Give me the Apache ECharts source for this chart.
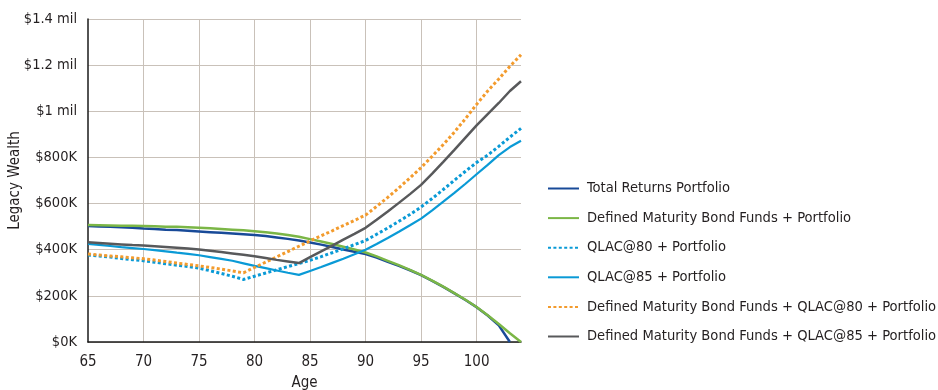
<!DOCTYPE html>
<html>
<head>
<meta charset="utf-8">
<script src="https://cdn.jsdelivr.net/npm/echarts@6/dist/echarts.min.js"></script>
<style>
  html, body { margin: 0; padding: 0; background: #ffffff; }
  #chart { width: 938px; height: 390px; }
</style>
</head>
<body>
<div id="chart"></div>
<script>
// Age of the retiree, one point per year
const ages = [65, 66, 67, 68, 69, 70, 71, 72, 73, 74,
              75, 76, 77, 78, 79, 80, 81, 82, 83, 84,
              85, 86, 87, 88, 89, 90, 91, 92, 93, 94,
              95, 96, 97, 98, 99, 100, 101, 102, 103, 104];

// Legacy wealth in thousands of dollars
const totalReturns = [503, 501, 499, 497, 495, 492, 490, 487, 485, 482,
                      479, 476, 473, 470, 467, 464, 459, 453, 447, 440,
                      431, 422, 412, 401, 391, 381, 366, 348, 330, 311,
                      290, 265, 239, 211, 182, 151, 115, 72, 0, null];
const bondFunds = [507, 506, 505, 504, 504, 503, 502, 500, 499, 497,
                   495, 493, 490, 487, 484, 480, 476, 470, 464, 456,
                   446, 436, 425, 413, 401, 388, 371, 352, 333, 313,
                   291, 266, 240, 212, 183, 152, 116, 78, 38, 0];
const qlac80 = [377, 373, 368, 362, 357, 352, 346, 339, 333, 327,
                320, 309, 297, 285, 271, 285, 299, 313, 327, 340,
                354, 370, 387, 404, 422, 440, 467, 494, 523, 553,
                585, 622, 661, 701, 740, 778, 810, 848, 888, 926];
const qlac85 = [425, 421, 416, 411, 407, 403, 398, 393, 387, 382,
                376, 368, 360, 352, 341, 330, 320, 310, 300, 291,
                308, 325, 343, 361, 380, 400, 425, 451, 478, 506,
                535, 571, 608, 646, 686, 727, 768, 810, 845, 872];
const bondQlac80 = [381, 377, 373, 369, 365, 361, 355, 349, 342, 336,
                    330, 323, 316, 308, 300, 323, 346, 369, 392, 415,
                    438, 460, 482, 505, 527, 550, 588, 627, 668, 711,
                    756, 805, 856, 910, 968, 1030, 1088, 1140, 1195, 1245];
const bondQlac85 = [432, 429, 426, 423, 420, 418, 415, 412, 409, 405,
                    401, 396, 390, 384, 378, 372, 364, 356, 349, 342,
                    368, 393, 418, 444, 469, 495, 530, 566, 603, 641,
                    681, 730, 781, 833, 886, 939, 988, 1036, 1088, 1130];

// Y axis tick labels, one per 200K step
const yTickLabels = ['$0K', '$200K', '$400K', '$600K', '$800K', '$1 mil', '$1.2 mil', '$1.4 mil'];

const seriesNames = [
  'Total Returns Portfolio',
  'Defined Maturity Bond Funds + Portfolio',
  'QLAC@80 + Portfolio',
  'QLAC@85 + Portfolio',
  'Defined Maturity Bond Funds + QLAC@80 + Portfolio',
  'Defined Maturity Bond Funds + QLAC@85 + Portfolio'
];

const FONT = '"DejaVu Sans Condensed", "Liberation Sans Narrow", sans-serif';
const TEXT = '#231f20';
const GRID = '#c9c1b9';

function pairs(values) {
  return ages.map((a, i) => [a, values[i]]);
}

function lineSeries(name, values, color, width, dotted) {
  return {
    name: name,
    type: 'line',
    data: pairs(values),
    symbol: 'none',
    showSymbol: false,
    smooth: false,
    connectNulls: false,
    lineStyle: {
      color: color,
      width: width,
      type: dotted ? [3, 2.4] : 'solid',
      cap: 'butt'
    },
    itemStyle: { color: color },
    emphasis: { disabled: true }
  };
}

const chart = echarts.init(document.getElementById('chart'), null, { renderer: 'canvas' });

chart.setOption({
  animation: false,
  backgroundColor: '#ffffff',
  grid: { left: 88, right: 417, top: 19, bottom: 48, containLabel: false, outerBoundsMode: 'none' },
  legend: {
    orient: 'vertical',
    left: 547,
    top: 181,
    padding: 0,
    itemWidth: 31,
    itemHeight: 16,
    itemGap: 14.6,
    selectedMode: false,
    itemStyle: { opacity: 0, borderWidth: 0 },
    textStyle: { fontFamily: FONT, fontSize: 14.6, color: TEXT, padding: [0, 0, 0, 3] },
    data: seriesNames
  },
  xAxis: {
    type: 'value',
    min: 65,
    max: 104,
    interval: 5,
    name: 'Age',
    nameLocation: 'middle',
    nameGap: 34,
    nameMoveOverlap: false,
    nameTextStyle: { fontFamily: FONT, fontSize: 15, color: TEXT },
    axisLine: { show: true, onZero: false, lineStyle: { color: '#1a1a1a', width: 1.5 } },
    axisTick: { show: false },
    axisLabel: {
      fontFamily: FONT, fontSize: 15, color: TEXT, margin: 13,
      showMaxLabel: false
    },
    splitLine: { show: true, showMinLine: false, showMaxLine: false, lineStyle: { color: GRID, width: 1 } }
  },
  yAxis: {
    type: 'value',
    min: 0,
    max: 1400,
    interval: 200,
    name: 'Legacy Wealth',
    nameLocation: 'middle',
    nameGap: 65,
    nameMoveOverlap: false,
    nameRotate: 90,
    nameTextStyle: { fontFamily: FONT, fontSize: 15, color: TEXT },
    axisLine: { show: true, lineStyle: { color: '#1a1a1a', width: 1.5 } },
    axisTick: { show: false },
    axisLabel: {
      fontFamily: FONT, fontSize: 14.5, color: TEXT, margin: 11,
      formatter: v => yTickLabels[Math.round(v / 200)]
    },
    splitLine: { show: true, lineStyle: { color: GRID, width: 1 } }
  },
  series: [
    lineSeries(seriesNames[0], totalReturns, '#184a98', 2.5, false),
    lineSeries(seriesNames[1], bondFunds, '#7bb646', 2.5, false),
    lineSeries(seriesNames[2], qlac80, '#0a9ad6', 3, true),
    lineSeries(seriesNames[3], qlac85, '#0a9ad6', 2.2, false),
    lineSeries(seriesNames[4], bondQlac80, '#f39b2d', 3, true),
    lineSeries(seriesNames[5], bondQlac85, '#58595b', 2.5, false)
  ]
});
</script>
</body>
</html>
